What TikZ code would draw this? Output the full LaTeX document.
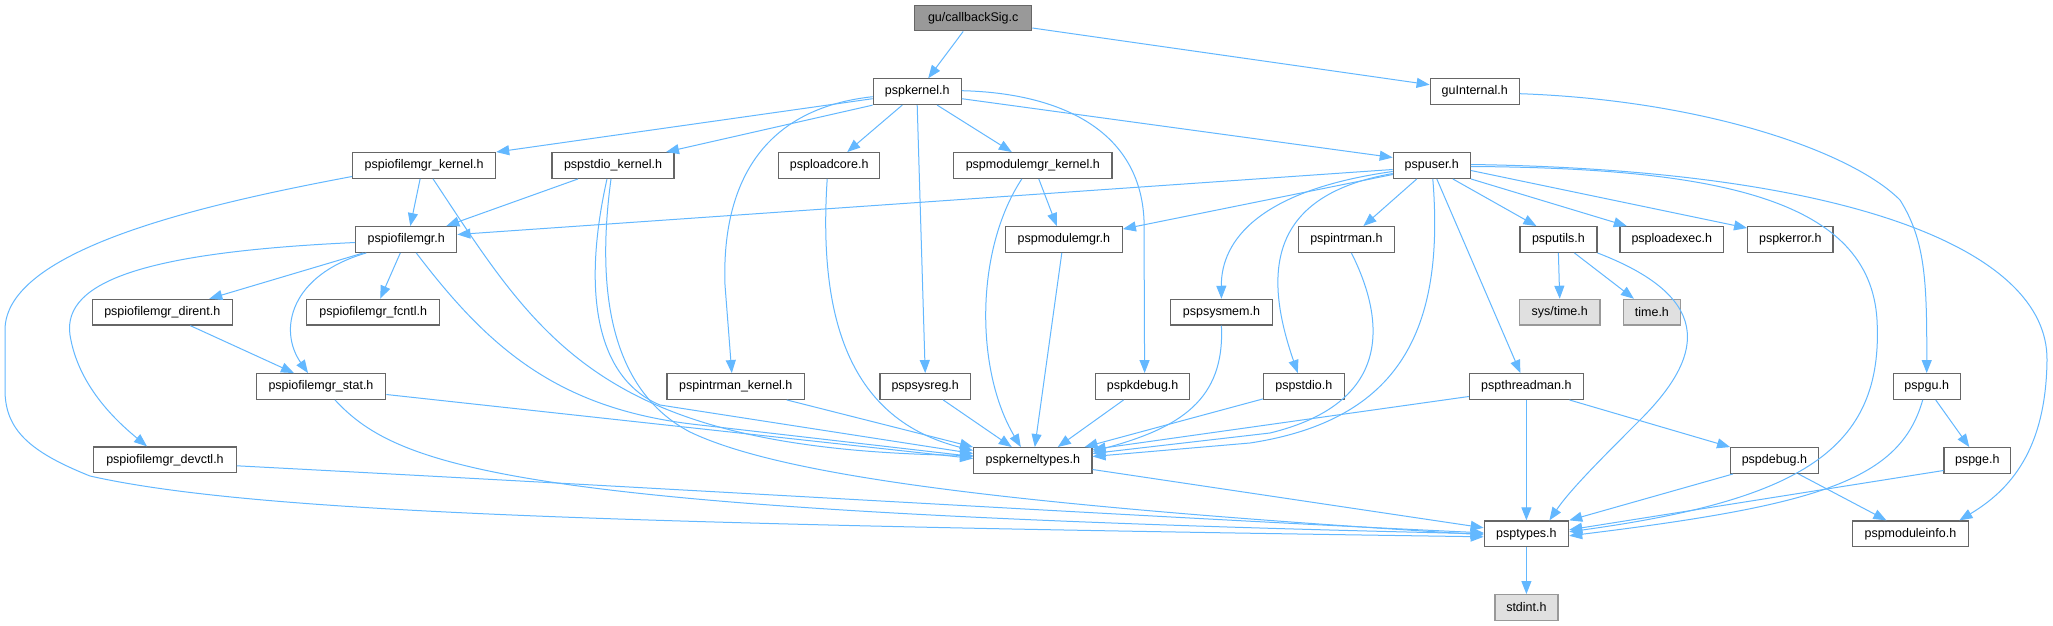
\documentclass[tikz,border=0pt]{standalone}
\usepackage{fontspec}
\setmainfont{Liberation Sans}
\usetikzlibrary{arrows.meta}
\definecolor{edgec}{HTML}{63B8FF}
\definecolor{bordc}{HTML}{666666}
\definecolor{rootc}{HTML}{999999}
\definecolor{extc}{HTML}{E0E0E0}
\definecolor{extb}{HTML}{999999}
\begin{document}
\begin{tikzpicture}[x=1pt,y=-1pt,
  nd/.style={draw=bordc, line width=1.2pt, fill=white, minimum height=25.7pt, inner sep=0pt, font=\fontsize{12.5}{14}\selectfont, text=black},
  rootnd/.style={nd, fill=rootc},
  extnd/.style={nd, draw=extb, fill=extc},
  e/.style={draw=edgec, line width=1pt, -{Triangle[length=13pt,width=10pt]}}]
\useasboundingbox[fill=white] (0,0) rectangle (2053,626);
% nodes
\node[rootnd, minimum width=117pt] (root) at (973.2,18) {gu/callbackSig.c};
\node[nd, minimum width=88pt] (pspkernel) at (917.2,91.7) {pspkernel.h};
\node[nd, minimum width=89pt] (guint) at (1474.7,91.7) {guInternal.h};
\node[nd, minimum width=143pt] (iofkern) at (424.1,165.5) {pspiofilemgr\_kernel.h};
\node[nd, minimum width=122pt] (stdiokern) at (613,165.5) {pspstdio\_kernel.h};
\node[nd, minimum width=101pt] (loadcore) at (829.2,165.5) {psploadcore.h};
\node[nd, minimum width=158.5pt] (modkern) at (1032.8,165.5) {pspmodulemgr\_kernel.h};
\node[nd, minimum width=77pt] (pspuser) at (1431.8,165.5) {pspuser.h};
\node[nd, minimum width=101pt] (iofmgr) at (406.3,239.5) {pspiofilemgr.h};
\node[nd, minimum width=117pt] (modmgr) at (1063.8,239.5) {pspmodulemgr.h};
\node[nd, minimum width=95.5pt] (intrman) at (1346.4,239.5) {pspintrman.h};
\node[nd, minimum width=77pt] (utils) at (1558.4,239.5) {psputils.h};
\node[nd, minimum width=103.5pt] (loadexec) at (1671.8,239.5) {psploadexec.h};
\node[nd, minimum width=85.3pt] (kerror) at (1790.3,239.5) {pspkerror.h};
\node[nd, minimum width=140pt] (dirent) at (162.3,312.2) {pspiofilemgr\_dirent.h};
\node[nd, minimum width=133pt] (fcntl) at (373.2,312.2) {pspiofilemgr\_fcntl.h};
\node[nd, minimum width=102pt] (sysmem) at (1221.4,312.2) {pspsysmem.h};
\node[extnd, minimum width=80.4pt] (systime) at (1559.7,312.2) {sys/time.h};
\node[extnd, minimum width=56.7pt] (timeh) at (1651.9,312.2) {time.h};
\node[nd, minimum width=129.4pt] (stat) at (321,386.5) {pspiofilemgr\_stat.h};
\node[nd, minimum width=137.7pt] (intrkern) at (735.8,386.5) {pspintrman\_kernel.h};
\node[nd, minimum width=90.6pt] (sysreg) at (925.2,386.5) {pspsysreg.h};
\node[nd, minimum width=94.2pt] (kdebug) at (1142.6,386.5) {pspkdebug.h};
\node[nd, minimum width=80.8pt] (stdio) at (1303.8,386.5) {pspstdio.h};
\node[nd, minimum width=114pt] (thread) at (1526.4,386.5) {pspthreadman.h};
\node[nd, minimum width=67pt] (gu) at (1926.7,386.5) {pspgu.h};
\node[nd, minimum width=142.4pt] (devctl) at (165,459.8) {pspiofilemgr\_devctl.h};
\node[nd, minimum width=118.3pt] (ktypes) at (1032.8,460.5) {pspkerneltypes.h};
\node[nd, minimum width=87.5pt] (debug) at (1774.4,460.5) {pspdebug.h};
\node[nd, minimum width=66.5pt] (ge) at (1977.3,460.5) {pspge.h};
\node[nd, minimum width=84.4pt] (types) at (1526.4,533.8) {psptypes.h};
\node[nd, minimum width=115.6pt] (modinfo) at (1910.4,533.8) {pspmoduleinfo.h};
\node[extnd, minimum width=63pt] (stdint) at (1526.4,607.5) {stdint.h};
% edges
\draw[e] ([xshift=-10pt]root.south) -- ([xshift=11pt]pspkernel.north);
\draw[e] ([yshift=-10pt]root.east) -- ([yshift=7pt]guint.west);
\draw[e] ([yshift=-2pt]guint.east) .. controls (1700,100) and (1850,150) .. (1900,200) .. controls (1925,240) and (1927,280) .. (gu.north);
\draw[e] ([yshift=-7pt]pspkernel.west) -- (iofkern.north east);
\draw[e] (pspkernel.south west) -- ([xshift=53pt]stdiokern.north);
\draw[e] ([xshift=-15pt]pspkernel.south) -- ([xshift=18pt]loadcore.north);
\draw[e] ([xshift=20pt]pspkernel.south) -- ([xshift=-21pt]modkern.north);
\draw[e] ([yshift=-7pt]pspkernel.east) -- ([yshift=8pt]pspuser.west);
\draw[e] ([yshift=-5pt]pspkernel.west) .. controls (750,110) and (722,200) .. (725,285) -- ([xshift=-4pt]intrkern.north);
\draw[e] (pspkernel.south) -- (sysreg.north);
\draw[e] ([yshift=1pt]pspkernel.east) .. controls (1060,93) and (1140,130) .. (1144,220) -- ([xshift=2pt]kdebug.north);
\draw[e] ([xshift=-4pt]iofkern.south) -- ([xshift=4pt]iofmgr.north);
\draw[e] ([xshift=9pt]iofkern.south) .. controls (540,340) and (600,450) .. ([yshift=5pt]ktypes.west);
\draw[e] ([yshift=-11pt]iofkern.west) .. controls (200,205) and (5,250) .. (5,330) -- (5,390) .. controls (5,430) and (30,452) .. (90,476) .. controls (250,512) and (600,524) .. ([yshift=-3pt]types.west);
\draw[e] ([xshift=-35pt]stdiokern.south) -- ([xshift=40pt]iofmgr.north);
\draw[e] ([xshift=-6pt]stdiokern.south) .. controls (580,300) and (600,380) .. (660,405) -- ([yshift=7pt]ktypes.west);
\draw[e] ([xshift=-2pt]stdiokern.south) .. controls (596,290) and (610,390) .. (690,432) .. controls (780,475) and (1000,505) .. ([yshift=-1pt]types.west);
\draw[e] ([xshift=-2pt]loadcore.south) .. controls (818,320) and (850,420) .. ([yshift=10pt]ktypes.west);
\draw[e] ([xshift=6pt]modkern.south) -- ([xshift=-7pt]modmgr.north);
\draw[e] ([xshift=-11pt]modkern.south) .. controls (975,250) and (975,370) .. ([xshift=-12pt]ktypes.north);
\draw[e] ([yshift=-4pt]pspuser.west) -- ([yshift=5pt]iofmgr.east);
\draw[e] ([yshift=-9pt]pspuser.west) -- ([yshift=-3pt]modmgr.north east);
\draw[e] ([yshift=-6pt]pspuser.west) .. controls (1260,190) and (1221,240) .. (sysmem.north);
\draw[e] ([yshift=-8pt]pspuser.west) .. controls (1270,195) and (1262,270) .. ([xshift=-6pt]stdio.north);
\draw[e] ([xshift=-15pt]pspuser.south) -- ([xshift=17pt]intrman.north);
\draw[e] ([xshift=1pt]pspuser.south) .. controls (1445,330) and (1400,420) .. (1250,443) -- ([yshift=4pt]ktypes.east);
\draw[e] ([xshift=5pt]pspuser.south) -- ([xshift=-6pt]thread.north);
\draw[e] ([xshift=21pt]pspuser.south) -- ([xshift=-22pt]utils.north);
\draw[e] (pspuser.south east) -- ([xshift=-45pt]loadexec.north);
\draw[e] ([yshift=-5pt]pspuser.east) -- ([yshift=-2pt]kerror.north west);
\draw[e] ([yshift=-1pt]pspuser.east) .. controls (1720,168) and (1870,200) .. (1877,320) .. controls (1884,450) and (1800,500) .. ([yshift=2pt]types.east);
\draw[e] ([yshift=1pt]pspuser.east) .. controls (1850,170) and (2048,250) .. (2047,360) .. controls (2046,450) and (2010,490) .. ([xshift=49pt]modinfo.north);
\draw[e] ([xshift=-43pt]iofmgr.south) -- ([xshift=47pt]dirent.north);
\draw[e] ([xshift=-6pt]iofmgr.south) -- ([xshift=7pt]fcntl.north);
\draw[e] ([xshift=-40pt]iofmgr.south) .. controls (290,275) and (278,330) .. ([xshift=-13pt]stat.north);
\draw[e] ([yshift=-3pt]iofmgr.west) .. controls (150,252) and (62,280) .. (70,335) .. controls (78,385) and (115,420) .. ([xshift=-18pt]devctl.north);
\draw[e] ([xshift=10pt]iofmgr.south) .. controls (490,350) and (560,410) .. (700,425) -- ([yshift=4pt]ktypes.west);
\draw[e] ([xshift=-2pt]modmgr.south) -- ([xshift=2pt]ktypes.north);
\draw[e] ([xshift=5pt]intrman.south) .. controls (1390,330) and (1385,405) .. (1270,433) -- ([yshift=7pt]ktypes.east);
\draw[e] (utils.south) -- (systime.north);
\draw[e] ([xshift=16pt]utils.south) -- ([xshift=-18pt]timeh.north);
\draw[e] (utils.south east) .. controls (1720,300) and (1700,360) .. (1640,420) .. controls (1600,460) and (1570,490) .. ([xshift=23pt]types.north);
\draw[e] (sysmem.south) .. controls (1225,400) and (1180,428) .. ([yshift=9pt]ktypes.east);
\draw[e] ([xshift=28pt]dirent.south) -- ([xshift=-27pt]stat.north);
\draw[e] ([yshift=-8pt]stat.east) -- ([yshift=2pt]ktypes.west);
\draw[e] ([xshift=14pt]stat.south) .. controls (400,470) and (520,512) .. (types.west);
\draw[e] ([xshift=51pt]intrkern.south) -- (ktypes.north west);
\draw[e] ([xshift=18pt]sysreg.south) -- ([xshift=-21pt]ktypes.north);
\draw[e] ([xshift=-19pt]kdebug.south) -- ([xshift=25pt]ktypes.north);
\draw[e] ([yshift=1pt]stdio.south west) -- ([xshift=-8pt]ktypes.north east);
\draw[e] ([yshift=-10pt]thread.west) -- ([yshift=11pt]ktypes.east);
\draw[e] (thread.south) -- (types.north);
\draw[e] ([xshift=43pt]thread.south) -- (debug.north west);
\draw[e] ([xshift=-4pt]gu.south) .. controls (1900,480) and (1820,505) .. ([yshift=-2pt]types.east);
\draw[e] ([xshift=9pt]gu.south) -- ([xshift=-8pt]ge.north);
\draw[e] ([yshift=-6pt]devctl.east) .. controls (700,490) and (1200,520) .. ([yshift=1pt]types.west);
\draw[e] ([yshift=-9pt]ktypes.east) -- ([yshift=6pt]types.west);
\draw[e] ([xshift=3pt]debug.south west) -- (types.north east);
\draw[e] ([xshift=24pt]debug.south) -- ([xshift=-24pt]modinfo.north);
\draw[e] ([yshift=-10pt]ge.west) -- ([yshift=4pt]types.east);
\draw[e] (types.south) -- (stdint.north);
\end{tikzpicture}
\end{document}
